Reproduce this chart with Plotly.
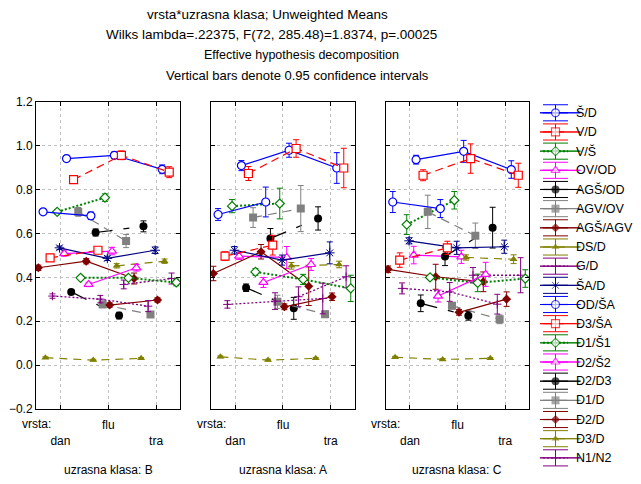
import plotly.graph_objects as go

categories = ["dan", "flu", "tra"]
panel_labels = ["B", "A", "C"]
series = ["Š/D", "V/D", "V/Š", "OV/OD", "AGŠ/OD", "AGV/OV", "AGŠ/AGV", "DS/D", "G/D", "ŠA/D",
          "OD/ŠA", "D3/ŠA", "D1/Š1", "D2/Š2", "D2/D3", "D1/D", "D2/D", "D3/D", "N1/N2"]
# horizontal jitter slot of every series inside a category
offset_rank = [12, 15, 8, 11, 4, 17, 0, 13, 16, 9, 2, 5, 18, 1, 14, 7, 10, 3, 6]

N = None
means_B = [
    [0.942, 0.957, 0.893], [0.846, 0.957, 0.880], [0.699, 0.764, N], [0.509, 0.520, N],
    [N, 0.605, 0.633], [0.699, 0.566, N], [0.444, 0.474, 0.395], [N, 0.453, 0.474],
    [N, 0.368, 0.395], [0.535, 0.487, 0.524], [0.699, 0.681, N], [0.489, 0.524, N],
    [0.398, 0.398, 0.377], [N, 0.368, 0.444], [0.334, 0.226, N], [N, 0.277, 0.231],
    [N, 0.274, 0.297], [0.034, 0.023, 0.031], [0.315, 0.301, 0.269],
]
means_A = [
    [0.910, 0.980, 0.899], [0.874, 0.988, 0.899], [0.725, 0.737, N], [0.497, 0.491, N],
    [N, 0.578, 0.669], [0.673, 0.714, N], [0.418, 0.517, 0.360], [N, 0.453, 0.459],
    [N, 0.312, 0.403], [0.524, 0.479, 0.512], [0.687, 0.744, N], [0.497, 0.547, N],
    [0.425, 0.391, 0.350], [N, 0.377, 0.459], [0.353, 0.259, N], [N, 0.289, 0.232],
    [N, 0.266, 0.312], [0.038, 0.023, 0.031], [0.277, 0.292, 0.304],
]
means_C = [
    [0.937, 0.975, 0.892], [0.866, 0.942, 0.866], [0.641, 0.752, N], [0.502, 0.494, N],
    [N, 0.496, 0.627], [0.699, 0.590, N], [0.437, 0.403, 0.380], [N, 0.491, 0.483],
    [N, 0.410, 0.410], [0.567, 0.535, 0.540], [0.744, 0.714, N], [0.479, 0.535, N],
    [0.400, 0.375, 0.395], [N, 0.315, 0.414], [0.282, 0.225, N], [N, 0.271, 0.209],
    [N, 0.241, 0.301], [0.036, 0.026, 0.031], [0.350, 0.334, 0.278],
]
# half widths of the 0.95 confidence intervals
ci_B = [
    [0.006, 0.015, 0.02], [0.008, 0.02, 0.025], [0.01, 0.017, 0], [0.012, 0.017, 0],
    [0, 0.016, 0.025], [0.02, 0.03, 0], [0.012, 0.012, 0.025], [0, 0.01, 0.01],
    [0, 0.02, 0.025], [0.008, 0.01, 0.015], [0.012, 0.017, 0], [0.01, 0.012, 0],
    [0.008, 0.008, 0.015], [0, 0.01, 0.015], [0.008, 0.015, 0], [0, 0.015, 0.012],
    [0, 0.01, 0.01], [0.004, 0.004, 0.004], [0.01, 0.017, 0.025],
]
ci_A = [
    [0.023, 0.032, 0.07], [0.032, 0.04, 0.09], [0.03, 0.07, 0], [0.015, 0.05, 0],
    [0, 0.045, 0.053], [0.045, 0.105, 0], [0.033, 0.033, 0.088], [0, 0.015, 0.015],
    [0, 0.045, 0.05], [0.017, 0.023, 0.05], [0.027, 0.068, 0], [0.02, 0.045, 0],
    [0.015, 0.023, 0.06], [0, 0.023, 0.027], [0.017, 0.05, 0], [0, 0.03, 0.015],
    [0, 0.013, 0.017], [0.004, 0.004, 0.004], [0.017, 0.038, 0.07],
]
ci_C = [
    [0.02, 0.05, 0.04], [0.025, 0.067, 0.055], [0.045, 0.04, 0], [0.04, 0.03, 0],
    [0, 0.042, 0.093], [0.076, 0.058, 0], [0.015, 0.057, 0.045], [0, 0.012, 0.02],
    [0, 0.035, 0.08], [0.014, 0.03, 0.03], [0.048, 0.041, 0], [0.033, 0.03, 0],
    [0.01, 0.04, 0.04], [0, 0.027, 0.055], [0.038, 0.02, 0], [0, 0.015, 0.02],
    [0, 0.013, 0.033], [0.004, 0.004, 0.004], [0.025, 0.043, 0.045],
]

colors = ["#0000ff", "#ff0000", "#008000", "#ff00ff", "#000000",
          "#808080", "#800000", "#808000", "#800080", "#000080"]
dashes = ["solid", "8px,5px", "2px,2px", "solid", "17px,11px,6px,100px",
          "9px,6px", "solid", "8px,6px", "2px,2px", "solid"]
widths = [1.2, 1.2, 2, 1.2, 1.2, 1.2, 1.2, 1.2, 1.3, 1.2]
symbols = ["circle", "square", "diamond", "triangle-up", "circle",
           "square", "diamond", "triangle-up", "cross-thin-open", "asterisk-open"]
sizes = [8, 8, 7, 8, 8, 8, 7, 7, 6, 8]
hollow = [True, True, True, True, False, False, False, False, False, False]

FONT = "Liberation Sans, Arial, sans-serif"
# the page puts the figure 8px in from the top-left corner; the paper area
# covers page pixels x 36..641 and y 102..472
PW, PH, L, T = 605.0, 370.0, 36.0, 102.0


def px_x(x):
    return (x - L) / PW


def px_y(y):
    return 1 - (y - T) / PH


domains = [[px_x(36), px_x(180)], [px_x(211), px_x(354.5)], [px_x(385.7), px_x(529)]]
ydom = [px_y(409), 1.0]


def marker_for(s):
    col = colors[s]
    if symbols[s].endswith("-open"):
        return dict(symbol=symbols[s], size=sizes[s], color=col, line=dict(color=col, width=1))
    if hollow[s]:
        return dict(symbol=symbols[s], size=sizes[s], color="white", line=dict(color=col, width=1.2))
    return dict(symbol=symbols[s], size=sizes[s], color=col, line=dict(width=0))


fig = go.Figure()
for p, (means, cis) in enumerate([(means_B, ci_B), (means_A, ci_A), (means_C, ci_C)]):
    sfx = "" if p == 0 else str(p + 1)
    for i, name in enumerate(series):
        s = i % 10
        col = colors[s]
        off = -0.46 + 0.049 * offset_rank[i]
        xs = [c + off for c in range(len(categories))]
        fig.add_trace(go.Scatter(
            x=xs, y=means[i], mode="lines+markers", name=name, showlegend=False,
            line=dict(color=col, width=widths[s], dash=dashes[s]),
            marker=marker_for(s),
            error_y=dict(type="data", array=cis[i], color=col, thickness=1, width=3),
            xaxis="x" + sfx, yaxis="y" + sfx,
        ))

# legend drawn on its own hidden axis: one row per series
for i, name in enumerate(series):
    s = i % 10
    col = colors[s]
    mk = marker_for(s)
    mk["size"] = [0, mk["size"], 0]
    fig.add_trace(go.Scatter(
        x=[3, 15.5, 28], y=[-i, -i, -i], mode="lines+markers", showlegend=False,
        line=dict(color=col, width=widths[s], dash="solid" if s == 4 else dashes[s]),
        marker=mk, cliponaxis=False, hoverinfo="skip",
        error_y=dict(type="data", array=[0, 0.42, 0], color=col, thickness=1, width=12.5),
        xaxis="x4", yaxis="y4",
    ))
    fig.add_annotation(text=name, xref="x4", yref="y4", x=33.5, y=-i, showarrow=False,
                       xanchor="left", yanchor="middle", font=dict(size=12.5))

layout = dict(
    width=633, height=476,
    margin=dict(l=28, r=0, t=94, b=12),
    paper_bgcolor="white", plot_bgcolor="white",
    font=dict(family=FONT, size=12, color="black"),
    showlegend=False,
    xaxis4=dict(domain=[px_x(540), 1.0], anchor="y4", range=[0, 101], visible=False),
    yaxis4=dict(domain=[0, 1], anchor="x4", range=[-(472 - 112.8) / 19.17, (112.8 - 102) / 19.17],
                visible=False),
)
for p in range(3):
    sfx = "" if p == 0 else str(p + 1)
    layout["xaxis" + sfx] = dict(
        domain=domains[p], anchor="y" + sfx, range=[-0.51, 2.5],
        tickvals=[0, 1, 2], ticktext=["<br>" + categories[0], categories[1], "<br>" + categories[2]],
        ticks="inside", ticklen=4, tickcolor="black", mirror="ticks", ticklabelstandoff=5,
        showline=True, linecolor="black", linewidth=1,
        showgrid=True, gridcolor="#c0c0c0", griddash="dot", zeroline=False,
        tickfont=dict(size=12),
    )
    layout["yaxis" + sfx] = dict(
        domain=ydom, anchor="x" + sfx, range=[-0.2, 1.2], dtick=0.2, tick0=0,
        tickformat=".1f", showticklabels=(p == 0),
        ticks="inside", ticklen=4, tickcolor="black", mirror="ticks",
        showline=True, linecolor="black", linewidth=1,
        showgrid=True, gridcolor="#c0c0c0", griddash="dot", zeroline=False,
        tickfont=dict(size=12),
    )
fig.update_layout(**layout)

titles = ["vrsta*uzrasna klasa; Unweighted Means",
          "Wilks lambda=.22375, F(72, 285.48)=1.8374, p=.00025",
          "Effective hypothesis decomposition",
          "Vertical bars denote 0.95 confidence intervals"]
title_px = [(267, 15), (271, 34.5), (301, 55), (297, 75.5)]
title_size = [13.5, 13.5, 12.5, 13]
for t, (tx, ty), fs in zip(titles, title_px, title_size):
    fig.add_annotation(text=t, xref="paper", yref="paper", x=px_x(tx), y=px_y(ty),
                       showarrow=False, xanchor="center", yanchor="middle",
                       font=dict(size=fs))

for p in range(3):
    sfx = "" if p == 0 else str(p + 1)
    fig.add_annotation(text="vrsta:", xref="x" + sfx + " domain", yref="paper", x=0, y=px_y(424),
                       showarrow=False, xanchor="center", yanchor="middle")
    fig.add_annotation(text="uzrasna klasa: " + panel_labels[p], xref="x" + sfx + " domain",
                       yref="paper", x=0.5, y=px_y(470), showarrow=False,
                       xanchor="center", yanchor="middle")

fig.write_html("out.html")
